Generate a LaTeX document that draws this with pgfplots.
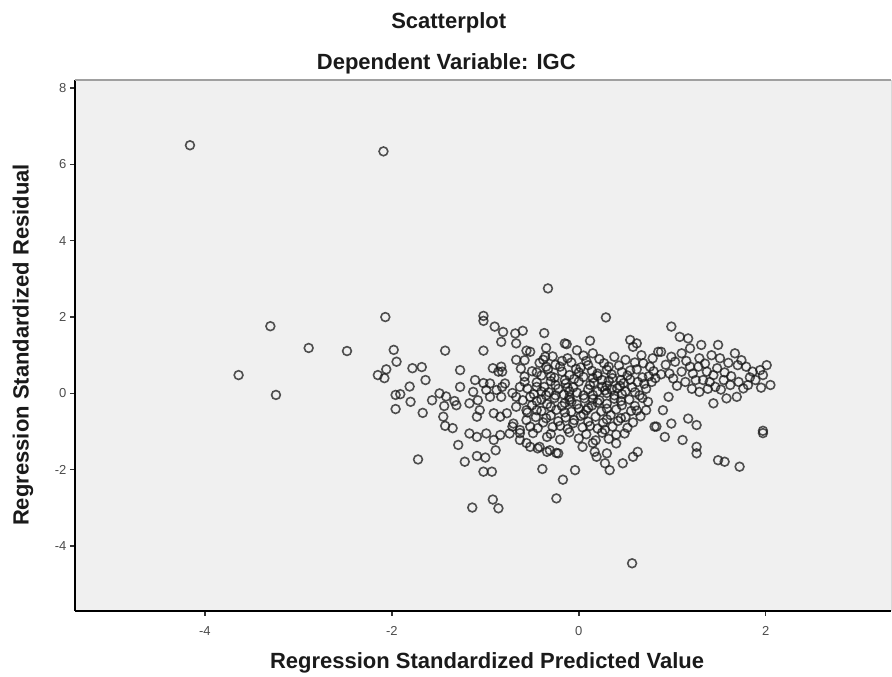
\documentclass[border=0pt]{standalone}
\usepackage{pgfplots}
\pgfplotsset{compat=1.18}
\usepackage{pgfplotstable}
\usepackage{fontspec}
\setmainfont{Liberation Sans}
\definecolor{bgc}{HTML}{F0F0F0}
\definecolor{topc}{HTML}{A0A0A0}
\definecolor{txt}{HTML}{1A1A1A}
\pgfplotstableread{
x y
-4.16 6.50
-2.09 6.34
-0.33 2.75
-3.30 1.76
-2.89 1.19
-2.48 1.11
-3.64 0.48
-3.24 -0.04
-2.07 2.00
0.57 -4.45
-1.72 -1.73
-1.14 -2.99
-0.92 -2.78
-0.86 -3.01
-0.24 -2.75
-0.17 -2.26
-0.04 -2.01
-0.39 -1.98
1.97 -0.98
1.97 -1.04
1.49 -1.75
1.56 -1.79
1.72 -1.92
-1.98 1.14
-1.95 0.83
-2.15 0.48
-2.06 0.63
-2.08 0.40
-1.96 -0.04
-1.96 -0.41
-1.43 1.12
-1.78 0.66
-1.68 0.69
-1.64 0.35
-1.91 -0.02
-1.81 0.18
-1.80 -0.22
-1.67 -0.51
-1.57 -0.18
-1.49 0.00
-1.42 -0.08
-1.44 -0.33
-1.45 -0.61
-1.43 -0.85
-1.35 -0.91
-1.33 -0.20
-1.31 -0.31
-1.27 0.61
-1.27 0.17
-1.02 2.03
-1.02 1.90
-0.90 1.75
-0.81 1.61
-0.83 1.35
-0.68 1.57
-0.60 1.64
-0.67 1.31
-0.67 0.88
-0.58 0.87
-0.56 1.12
-0.52 1.09
-1.02 1.12
-0.37 1.58
-0.35 1.19
-0.36 0.96
-0.13 1.29
0.12 1.38
-0.35 0.70
-1.11 0.35
-1.13 0.04
-1.17 -0.26
-1.08 -0.18
-1.06 -0.44
-1.09 -0.61
-0.91 -0.52
-0.84 -0.61
-1.17 -1.05
-1.09 -1.14
-0.99 -1.05
-0.91 -1.22
-0.84 -1.09
-1.29 -1.35
-1.22 -1.79
-1.09 -1.64
-1.00 -1.68
-0.89 -1.49
-1.02 -2.05
-0.93 -2.05
-0.99 0.09
-0.95 -0.09
-0.88 0.09
-0.83 -0.09
-0.82 0.17
-0.82 0.57
-0.92 0.66
-0.86 0.57
-0.95 0.26
-0.83 0.70
-0.79 0.26
-1.02 0.27
-0.77 -0.52
-0.70 -0.79
-0.74 -1.05
-0.63 -0.96
-0.56 -0.70
-0.67 -0.35
-0.67 -0.09
-0.60 -0.18
-0.56 -0.44
-0.63 0.17
-0.71 0.01
-0.52 -0.09
-0.45 0.17
-0.45 -0.44
-0.71 -0.87
-0.63 -1.04
-0.52 -0.87
-0.56 -1.30
-0.49 -1.04
-0.34 -1.14
-0.44 -1.44
-0.34 -1.53
-0.24 -1.56
-0.52 -1.40
-0.42 -1.40
-0.31 -1.49
-0.22 -1.57
-0.63 -1.22
0.04 -1.40
0.15 -1.30
0.19 -1.66
0.17 -1.53
0.30 -1.57
0.28 -1.83
0.33 -2.01
0.47 -1.83
0.58 -1.66
0.63 -1.53
0.40 -1.31
0.49 -1.05
0.72 -0.44
0.74 -0.22
0.83 -0.87
-0.15 1.31
0.15 1.05
-0.02 1.13
0.55 1.40
0.62 1.31
0.67 1.00
0.69 0.79
0.79 0.92
0.85 1.09
0.29 1.99
0.58 1.22
0.99 1.75
1.08 1.48
1.17 1.44
1.19 1.18
1.31 1.27
1.49 1.27
0.88 1.09
0.99 0.96
1.03 0.83
0.97 0.52
1.01 0.39
1.10 0.57
1.19 0.70
1.14 0.30
1.25 0.35
1.29 0.92
1.28 0.70
1.37 0.57
1.44 0.48
1.48 0.66
1.42 1.00
1.51 0.92
1.55 0.35
1.62 0.22
1.46 0.17
1.40 0.30
1.33 0.35
1.67 1.05
1.74 0.87
1.79 0.70
1.70 0.74
1.86 0.57
1.94 0.61
2.01 0.74
1.97 0.48
1.89 0.35
1.81 0.22
1.76 0.13
2.05 0.22
1.58 -0.13
1.69 -0.09
1.44 -0.26
1.29 0.04
0.81 -0.87
0.99 -0.79
0.92 -1.14
1.11 -1.22
1.17 -0.66
1.26 -0.83
1.26 -1.40
1.26 -1.57
0.90 -0.44
0.96 -0.09
1.22 0.52
1.35 0.78
1.56 0.55
1.63 0.45
1.52 0.10
1.71 0.30
1.83 0.42
1.60 0.80
1.15 0.85
1.05 0.20
1.21 0.12
1.38 0.12
0.93 0.75
1.10 1.05
1.95 0.15
0.75 0.45
0.82 0.40
0.88 0.50
0.78 0.30
-0.28 0.97
-0.12 0.92
0.05 0.99
0.22 0.90
0.38 0.96
0.50 0.88
-0.42 0.80
-0.25 0.75
-0.08 0.81
0.10 0.74
0.27 0.79
0.43 0.73
0.60 0.81
0.76 0.70
-0.50 0.58
-0.33 0.63
-0.18 0.57
-0.03 0.64
0.14 0.59
0.30 0.62
0.46 0.56
0.62 0.63
0.80 0.58
-0.58 0.44
-0.40 0.47
-0.26 0.41
-0.10 0.48
0.05 0.43
0.20 0.46
0.36 0.40
0.52 0.47
0.68 0.42
-0.45 0.29
-0.30 0.32
-0.14 0.26
0.00 0.31
0.16 0.28
0.32 0.33
0.48 0.27
0.63 0.30
-0.55 0.13
-0.37 0.17
-0.22 0.12
-0.06 0.16
0.10 0.11
0.25 0.17
0.41 0.13
0.57 0.16
0.72 0.12
-0.48 -0.02
-0.32 0.03
-0.16 -0.03
-0.02 0.02
0.15 -0.04
0.30 0.01
0.46 -0.02
0.60 0.03
-0.40 -0.16
-0.26 -0.12
-0.10 -0.17
0.06 -0.13
0.22 -0.18
0.38 -0.14
0.54 -0.16
0.68 -0.12
-0.50 -0.31
-0.34 -0.28
-0.18 -0.33
-0.02 -0.29
0.14 -0.32
0.30 -0.27
0.46 -0.31
0.60 -0.33
-0.40 -0.46
-0.24 -0.43
-0.08 -0.48
0.08 -0.44
0.24 -0.47
0.40 -0.42
0.56 -0.46
-0.46 -0.62
-0.30 -0.58
-0.14 -0.63
0.02 -0.59
0.18 -0.61
0.34 -0.57
0.50 -0.62
0.66 -0.60
-0.38 -0.76
-0.22 -0.73
-0.06 -0.78
0.10 -0.74
0.26 -0.77
0.42 -0.72
0.58 -0.76
-0.44 -0.91
-0.28 -0.88
-0.12 -0.93
0.04 -0.89
0.20 -0.92
0.36 -0.87
0.52 -0.90
-0.30 -1.06
-0.10 -1.02
0.08 -1.07
0.25 -1.03
0.40 -1.08
-0.20 -1.21
0.00 -1.18
0.18 -1.23
0.32 -1.19
-0.20 0.70
0.02 0.68
0.20 0.52
-0.05 0.38
0.12 0.22
0.28 0.08
-0.10 0.05
0.38 -0.05
0.20 -0.24
-0.08 -0.22
0.10 -0.38
-0.25 0.22
0.44 0.20
0.55 0.36
0.35 0.50
-0.35 -0.05
0.05 -0.55
0.30 -0.68
-0.15 -0.50
-0.45 0.55
-0.30 0.45
-0.15 0.35
0.00 0.55
0.15 0.40
0.30 0.20
0.45 0.35
-0.40 0.05
-0.25 -0.05
-0.10 -0.10
0.05 -0.05
0.20 0.05
0.35 0.10
0.50 0.05
-0.45 -0.20
-0.30 -0.35
-0.15 -0.25
0.00 -0.40
0.15 -0.15
0.30 -0.40
0.45 -0.20
-0.35 -0.65
-0.20 -0.85
-0.05 -0.70
0.12 -0.85
0.28 -0.95
0.45 -0.65
-0.38 0.88
-0.18 0.85
0.08 0.85
0.32 0.70
0.55 0.60
0.70 0.25
0.65 -0.05
0.62 -0.45
-0.55 -0.50
-0.58 0.30
-0.62 0.65
-0.12 0.15
0.25 0.35
}\resid
\begin{document}
\begin{tikzpicture}
\path[use as bounding box] (-75pt,-66pt) rectangle (817pt,611pt);
\begin{axis}[
  at={(0pt,0pt)}, anchor=south west,
  scale only axis, width=816pt, height=531pt,
  xmin=-5.39, xmax=3.34, ymin=-5.70, ymax=8.21,
  axis x line*=bottom, axis y line*=left,
  axis line style={line width=1.8pt, black, -},
  xtick={-4,-2,0,2}, ytick={-4,-2,0,2,4,6,8},
  tick align=outside, major tick length=5pt,
  tick style={line width=1.4pt, black!80},
  xticklabel style={font=\fontsize{13}{13}\selectfont, text=black!70, yshift=-7pt},
  yticklabel style={font=\fontsize{13}{13}\selectfont, text=black!70},
  /pgf/number format/assume math mode=true,
  axis background/.style={fill=bgc},
  title={Scatterplot},
  title style={font=\fontsize{22}{24}\selectfont\bfseries, text=txt, at={(axis description cs:0.458,1)}, anchor=center, yshift=51pt},
  xlabel={Regression Standardized Predicted Value},
  xlabel style={font=\fontsize{22}{24}\selectfont\bfseries, text=txt, at={(axis description cs:0.505,0)}, anchor=center, yshift=-52pt},
  ylabel={Regression Standardized Residual},
  ylabel style={font=\fontsize{22}{24}\selectfont\bfseries, text=txt, at={(axis description cs:0,0.501)}, anchor=center, yshift=52pt},
  clip=false,
]
\addplot[only marks, mark=o, mark size=4.4pt, mark options={draw=black!90, draw opacity=0.75, line width=1.6pt}] table[x=x,y=y] {\resid};
\draw[topc, line width=2.5pt] (rel axis cs:0,1) -- (rel axis cs:1,1);
\draw[black!15, line width=1pt] (rel axis cs:1,0) -- (rel axis cs:1,1);
\node[font=\fontsize{22}{24}\selectfont\bfseries, text=txt, anchor=center] at ([yshift=16pt]rel axis cs:0.455,1) {Dependent Variable: IGC};
\end{axis}
\end{tikzpicture}
\end{document}
